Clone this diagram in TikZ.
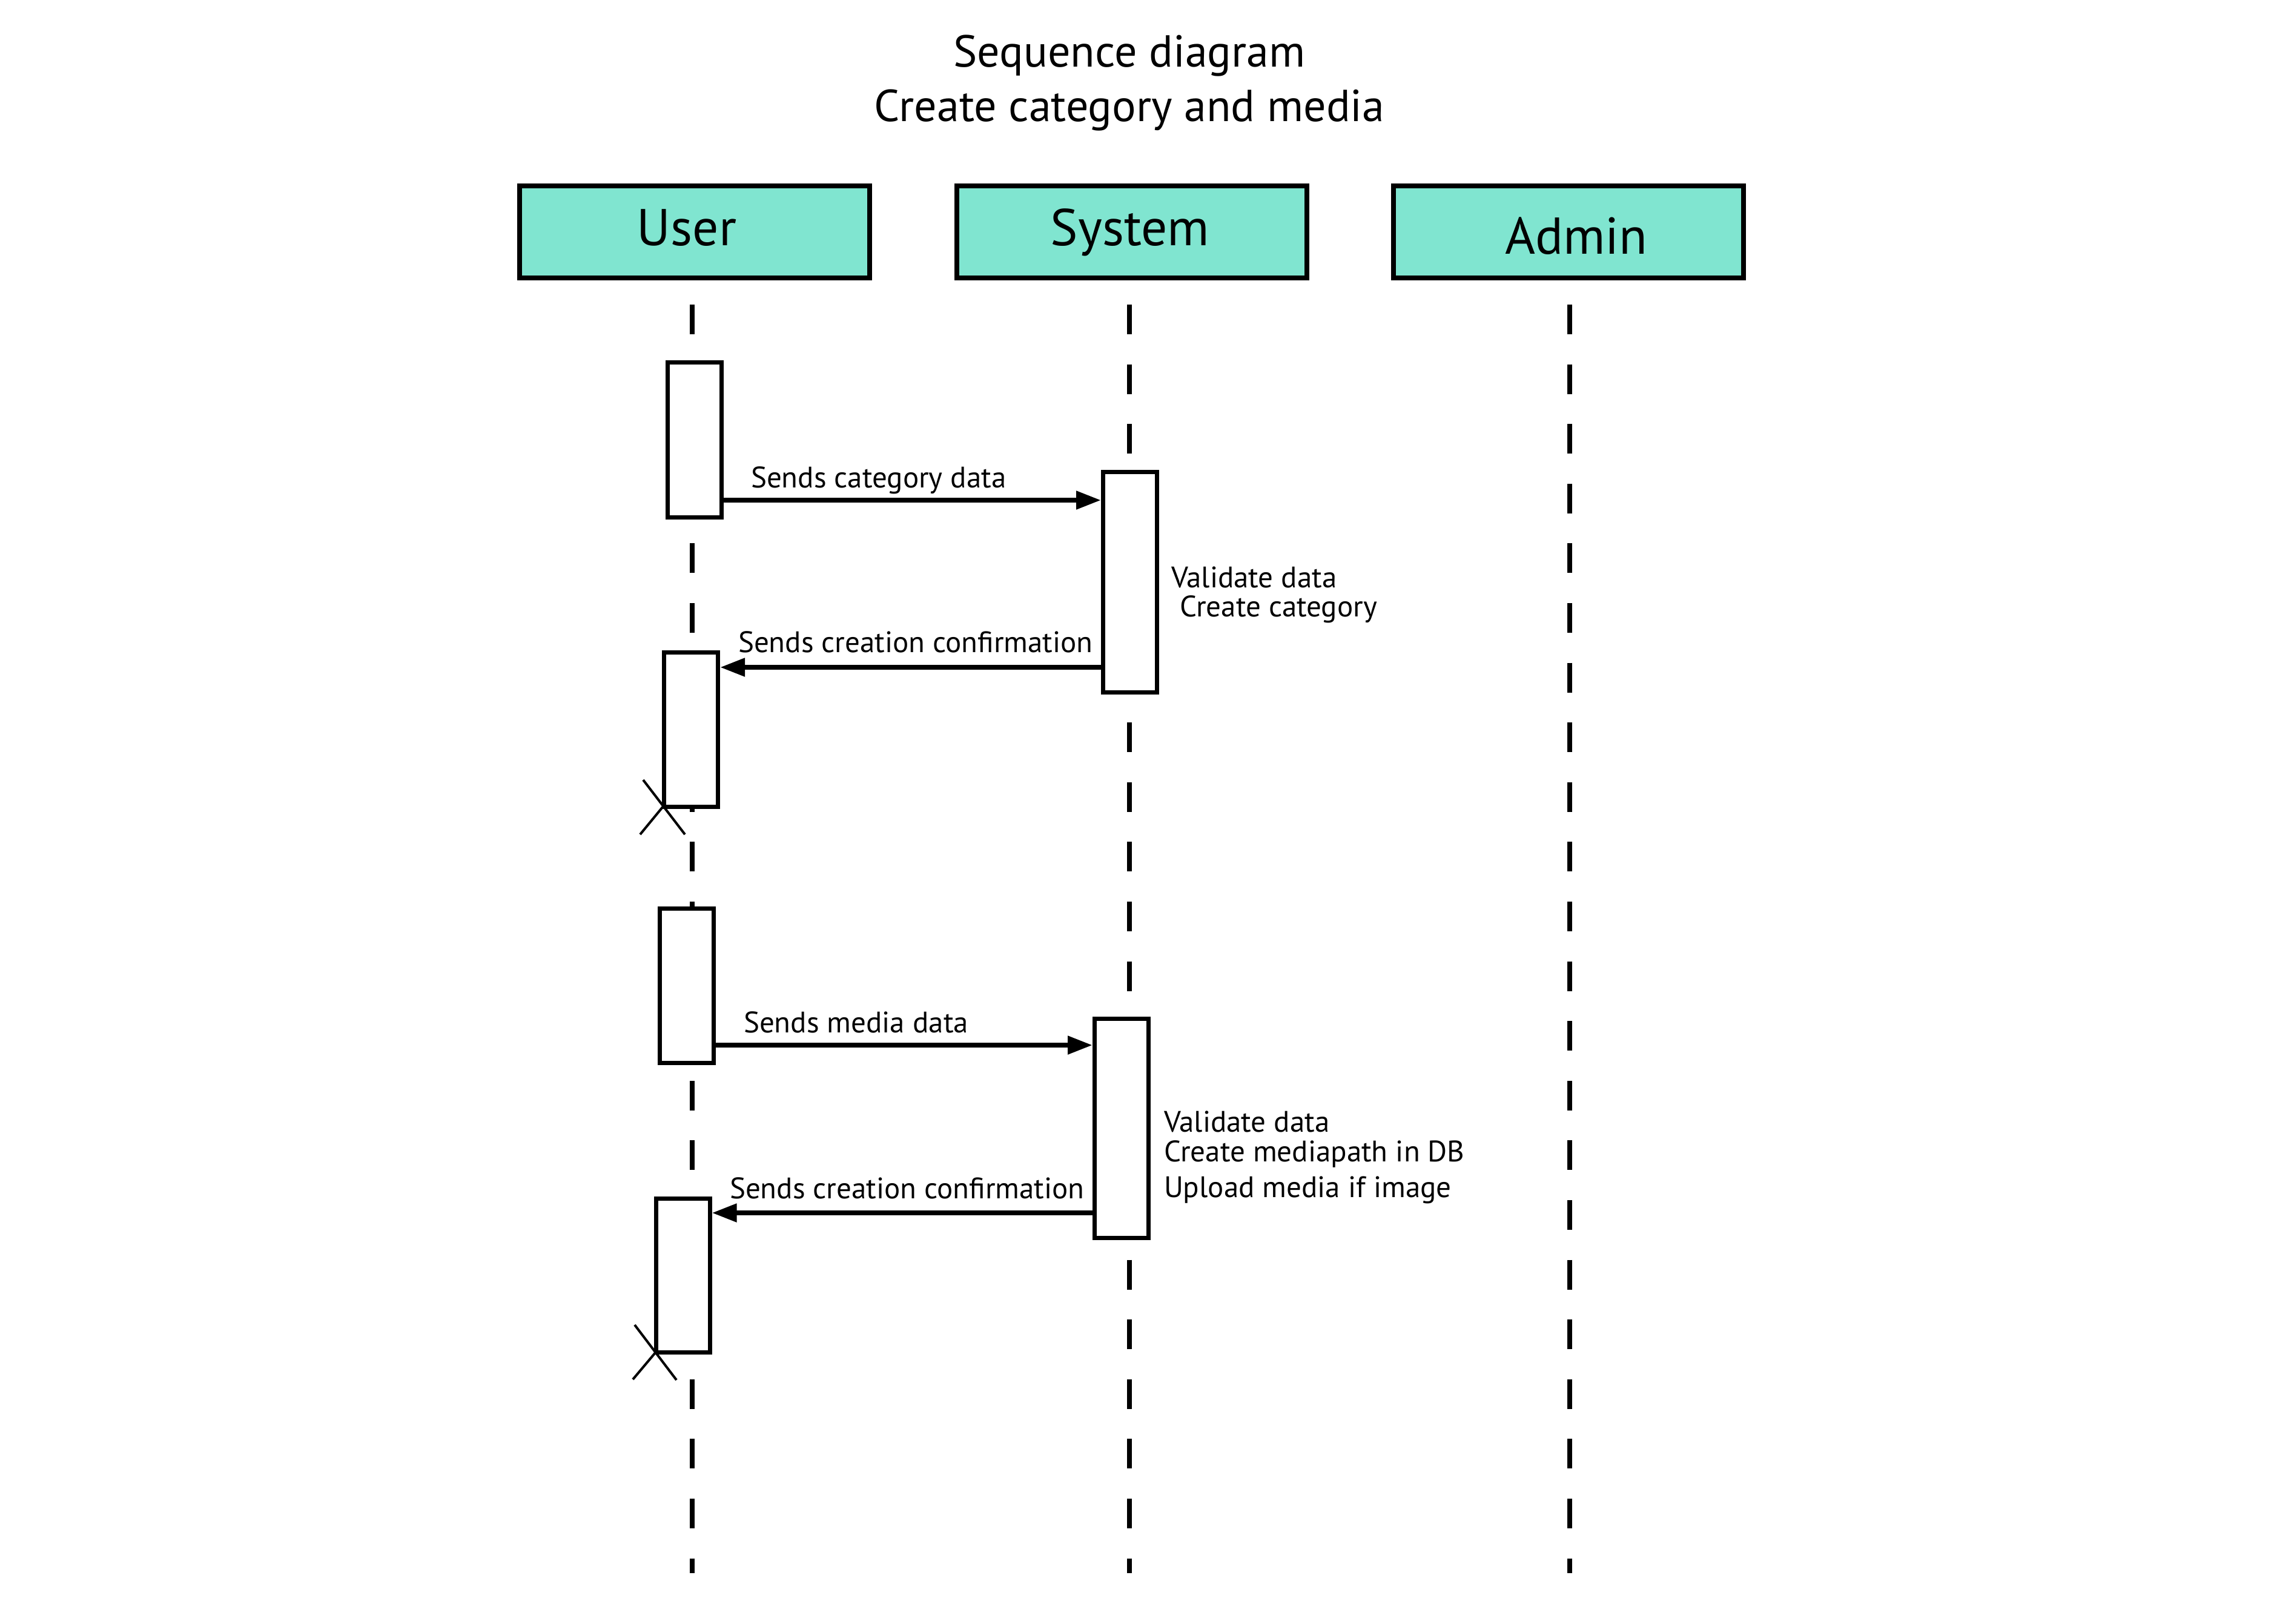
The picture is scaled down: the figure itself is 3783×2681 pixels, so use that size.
\documentclass[tikz,border=0pt]{standalone}
\usepackage{fontspec}
\setmainfont{PT Sans}
\usetikzlibrary{arrows.meta}
\definecolor{hdrfill}{RGB}{128,229,208}
\begin{document}
\begin{tikzpicture}[x=0.2pt,y=-0.2pt,
  hdr/.style={draw, line width=1.6pt, fill=hdrfill, minimum width=578*0.2pt, minimum height=152*0.2pt, inner sep=0pt},
  act/.style={draw, line width=1.4pt, fill=white, minimum width=89*0.2pt, inner sep=0pt},
  life/.style={line width=1.6pt, dash pattern=on 9.8pt off 9.92pt},
  msg/.style={line width=1.6pt, -{Triangle[length=8.2pt,width=5.8pt]}},
  xmark/.style={line width=0.8pt},
  lbl/.style={inner sep=0pt, anchor=base west, font=\fontsize{9.8pt}{11.5pt}\selectfont},
  hdrtxt/.style={inner sep=0pt, anchor=base, font=\fontsize{17.1pt}{20pt}\selectfont},
  ttl/.style={inner sep=0pt, anchor=base, font=\fontsize{14.8pt}{17pt}\selectfont}]
\useasboundingbox (0,0) rectangle (3783,2681);

% title
\node[ttl] (t1) at (1865,110) {Sequence diagram};
\node[ttl] (t2) at (1865,200) {Create category and media};

% headers
\node[hdr] (hU) at (1147,383) {};
\node[hdr] (hS) at (1868.5,383) {};
\node[hdr] (hA) at (2590,383) {};
\node[hdrtxt] (lU) at (1134,405) {User};
\node[hdrtxt] (lS) at (1866,405) {System};
\node[hdrtxt] (lA) at (2603,419) {Admin};

% lifelines
\coordinate (uTop) at (1143,503); \coordinate (uBot) at (1143,2598);
\coordinate (sTop) at (1865,503); \coordinate (sBot) at (1865,2598);
\coordinate (aTop) at (2592,503); \coordinate (aBot) at (2592,2598);
\draw[life] (uTop) -- (uBot);
\draw[life] (sTop) -- (sBot);
\draw[life] (aTop) -- (aBot);

% destruction marks
\coordinate (x1) at (1095,1332);
\coordinate (x2) at (1083,2233);
\draw[xmark] ([shift={(-33,-44)}]x1) -- ([shift={(36,46)}]x1);
\draw[xmark] ([shift={(-38,46)}]x1) -- ([shift={(36,-44)}]x1);
\draw[xmark] ([shift={(-35,-45)}]x2) -- ([shift={(34,46)}]x2);
\draw[xmark] ([shift={(-38,45)}]x2) -- ([shift={(36,-43)}]x2);

% activation boxes
\node[act, minimum height=256*0.2pt] (A1) at (1147,726.5) {};
\node[act, minimum height=364*0.2pt] (S1) at (1866,961.5) {};
\node[act, minimum height=255*0.2pt] (A2) at (1141,1205) {};
\node[act, minimum height=255*0.2pt] (A3) at (1133.5,1628) {};
\node[act, minimum height=362*0.2pt] (S2) at (1852,1863.5) {};
\node[act, minimum height=254*0.2pt] (A4) at (1127.5,2106.5) {};

% messages
\coordinate (m1) at (0,826);
\coordinate (m2) at (0,1102);
\coordinate (m3) at (0,1726);
\coordinate (m4) at (0,2003);
\draw[msg] (A1.east |- m1) -- (S1.west |- m1);
\draw[msg] (S1.west |- m2) -- (A2.east |- m2);
\draw[msg] (A3.east |- m3) -- (S2.west |- m3);
\draw[msg] (S2.west |- m4) -- (A4.east |- m4);

% labels
\node[lbl] (L1) at (1239,805) {Sends category data};
\node[lbl] (L2) at (1218,1077) {Sends creation confirmation};
\node[lbl] (L3) at (1227,1705) {Sends media data};
\node[lbl] (L4) at (1204,1979) {Sends creation confirmation};

\node[lbl] (N1a) at (1933,970) {Validate data};
\node[lbl] (N1b) at (1947,1018) {Create category};
\node[lbl] (N2a) at (1921,1869) {Validate data};
\node[lbl] (N2b) at (1921,1918) {Create mediapath in DB};
\node[lbl] (N2c) at (1921,1977) {Upload media if image};
\end{tikzpicture}
\end{document}
